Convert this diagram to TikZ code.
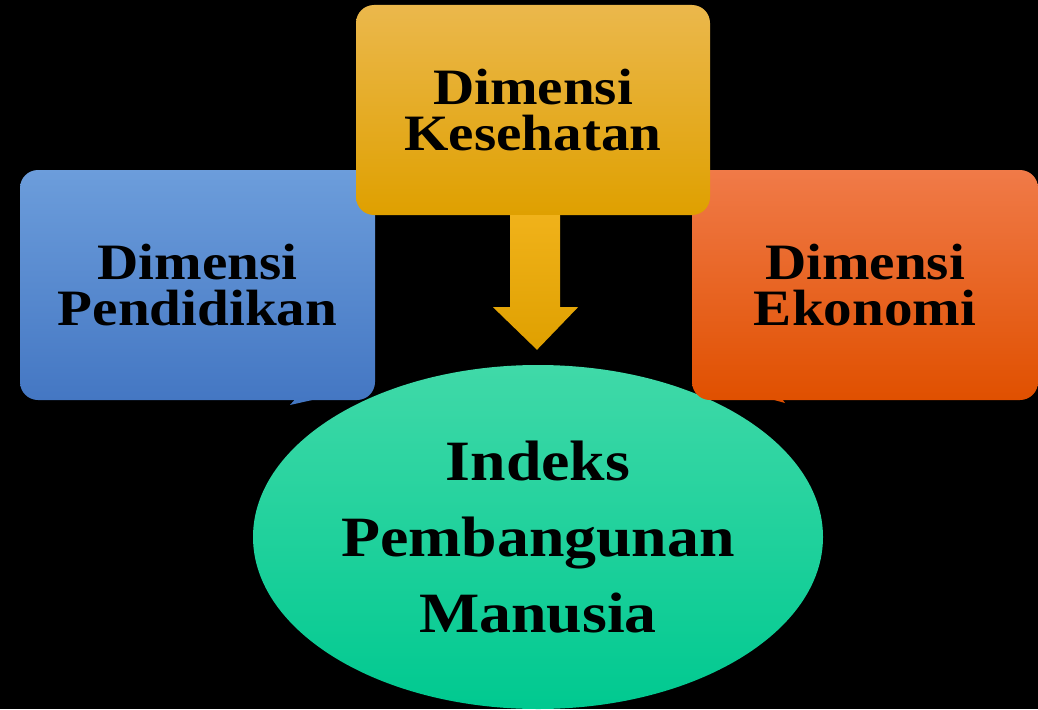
\documentclass[tikz,border=0pt]{standalone}
\usepackage{fontspec}
\setmainfont{Liberation Serif}[FakeStretch=1.12]
\usepackage{tikz}
\usetikzlibrary{shapes.geometric,calc}

\definecolor{bluetop}{HTML}{6C9DDB}
\definecolor{bluebot}{HTML}{4477C3}
\definecolor{goldtop}{HTML}{EBB84C}
\definecolor{goldmid}{HTML}{F0B21A}
\definecolor{goldbot}{HTML}{DFA000}
\definecolor{orgtop}{HTML}{F07A48}
\definecolor{orgmid}{HTML}{F55E0C}
\definecolor{orgbot}{HTML}{E05000}
\definecolor{grntop}{HTML}{40D9A8}
\definecolor{grnbot}{HTML}{00C990}

\tikzset{
  box/.style={rectangle, rounded corners=18pt, inner sep=0pt,
    font=\fontsize{51}{46}\selectfont\bfseries, align=center, text=black},
  oval/.style={ellipse, inner sep=0pt, minimum width=570pt, minimum height=344pt,
    font=\fontsize{57}{76}\selectfont\bfseries, align=center, text=black,
    top color=grntop, bottom color=grnbot}
}

\begin{document}
\begin{tikzpicture}[x=1pt,y=-1pt]
	\fill[black] (0,0) rectangle (1038,709);
	\useasboundingbox (0,0) rectangle (1038,709);

	% centre
	\node[oval] (ipm) at (538,537) {Indeks\\Pembangunan\\Manusia};

	% three dimensions
	\fill[bluebot] (290,405) -- (298,396) -- (330,396) -- cycle;
	\fill[orgbot] (785,403) -- (760,396) -- (780,396) -- cycle;
	\node[box, minimum width=355pt, minimum height=230pt,
	      top color=bluetop, bottom color=bluebot] (ed) at (197.5,285) {Dimensi\\Pendidikan};
	\node[box, minimum width=346pt, minimum height=230pt,
	      top color=orgtop, middle color=orgmid, bottom color=orgbot] (eko) at (865,285) {Dimensi\\Ekonomi};
	\node[box, minimum width=354pt, minimum height=210pt,
	      top color=goldtop, middle color=goldmid, bottom color=goldbot] (kes) at (533,110) {Dimensi\\Kesehatan};

	% arrow
	\fill[top color=goldmid, bottom color=goldbot]
	  ($(kes.south)+(-23,0)$) -- ($(kes.south)+(27,0)$) -- ($(kes.south)+(27,92)$)
	  -- ($(kes.south)+(45,92)$) -- ($(ipm.north)+(-1,-15)$)
	  -- ($(kes.south)+(-40,92)$) -- ($(kes.south)+(-23,92)$) -- cycle;
\end{tikzpicture}
\end{document}
